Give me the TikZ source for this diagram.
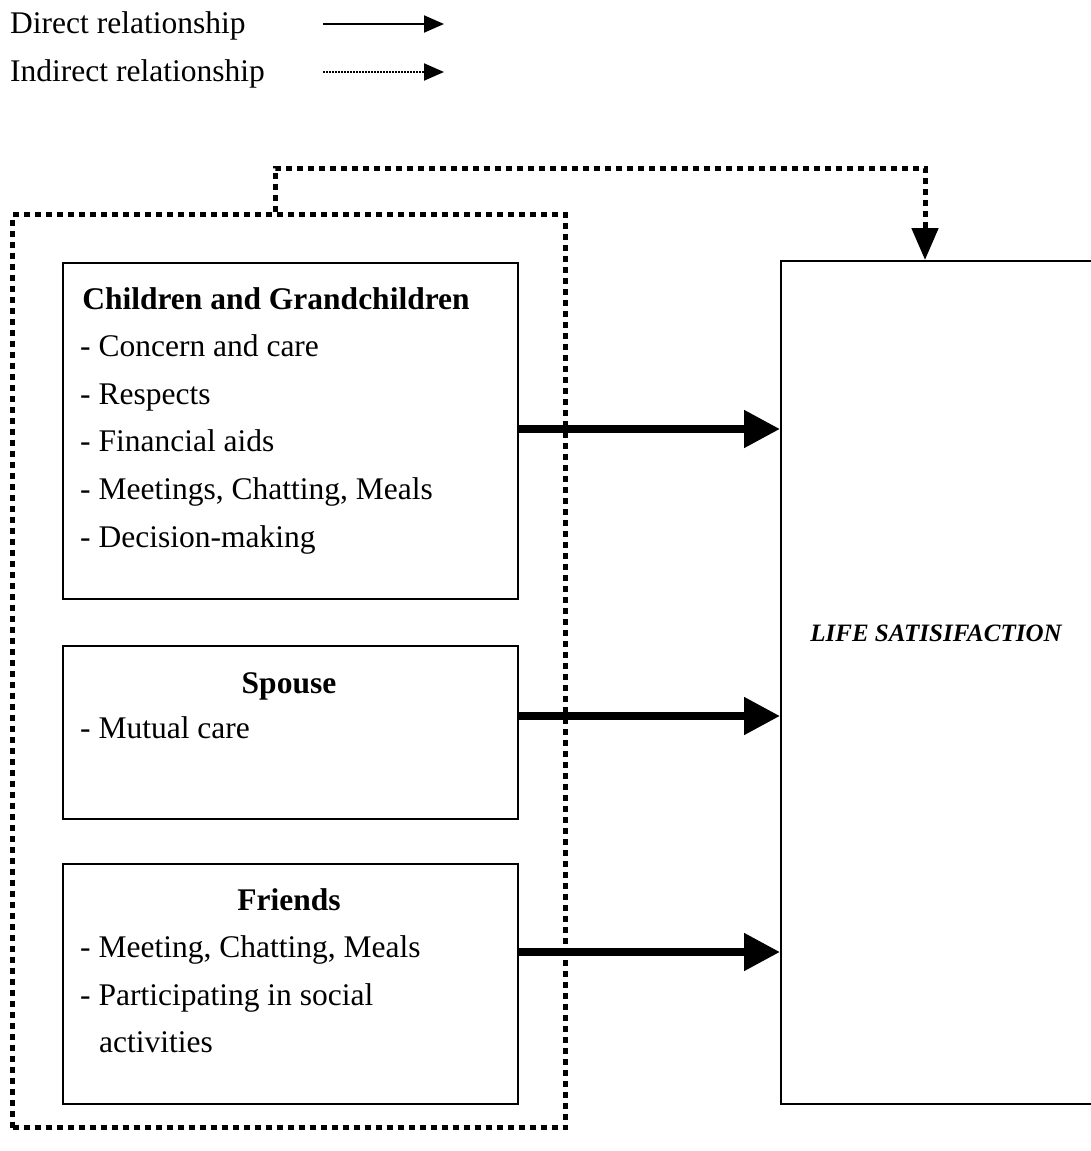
\documentclass[tikz,border=0pt]{standalone}
\usepackage{fontspec}
\setmainfont{Liberation Serif}
\usetikzlibrary{arrows.meta}
\begin{document}
\begin{tikzpicture}[x=1pt,y=-1pt,
  txt/.style={anchor=base west, inner sep=0pt, font=\fontsize{31.5}{36}\selectfont},
  hd/.style={anchor=base, inner sep=0pt, font=\fontsize{31.5}{36}\selectfont\bfseries},
  box/.style={draw, line width=2pt, anchor=north west, inner sep=0pt},
  dots/.style={line width=5pt, dash pattern=on 6pt off 5pt},
  bigarrow/.style={line width=8pt, -{Triangle[length=36pt,width=36pt]}},
  legarrow/.style={line width=2pt, -{Triangle[length=20pt,width=17pt]}},
  legdots/.style={line width=2pt, dash pattern=on 1.5pt off 1.5pt, -{Triangle[length=20pt,width=17pt]}},
]
\useasboundingbox (0,0) rectangle (1090,1151);

% legend
\node[txt] (ld) at (10,33) {Direct relationship};
\node[txt] (li) at (10,81) {Indirect relationship};
\coordinate (ld1) at (323,24);
\coordinate (ld2) at (444,24);
\coordinate (li1) at (323,72);
\coordinate (li2) at (444,72);
\draw[legarrow] (ld1) -- (ld2);
\draw[legdots] (li1) -- (li2);

% group
\node[draw, dots, anchor=north west, minimum width=553pt, minimum height=913pt, inner sep=0pt] (grp) at (10,212) {};

% boxes
\node[box, minimum width=455pt, minimum height=336pt] (cg) at (62,262) {};
\node[box, minimum width=455pt, minimum height=173pt] (sp) at (62,645) {};
\node[box, minimum width=455pt, minimum height=240pt] (fr) at (62,863) {};
\node[box, minimum width=340pt, minimum height=843pt] (life) at (780,260) {};

% texts
\node[hd] (cgh) at (276,309) {Children and Grandchildren};
\node[txt] (cg1) at (80,356) {- Concern and care};
\node[txt] (cg2) at (80,404) {- Respects};
\node[txt] (cg3) at (80,451) {- Financial aids};
\node[txt] (cg4) at (80,499) {- Meetings, Chatting, Meals};
\node[txt] (cg5) at (80,547) {- Decision-making};

\node[hd] (sph) at (289,693) {Spouse};
\node[txt] (sp1) at (80,738) {- Mutual care};

\node[hd] (frh) at (289,910) {Friends};
\node[txt] (fr1) at (80,957) {- Meeting, Chatting, Meals};
\node[txt] (fr2) at (80,1005) {- Participating in social};
\node[txt] (fr3) at (99,1052) {activities};

\node[anchor=base, inner sep=0pt, font=\fontsize{25}{30}\selectfont\bfseries\itshape] (lifet) at (936,641) {LIFE SATISIFACTION};

% arrows
\draw[bigarrow] ([xshift=-2pt]cg.east |- 0,429) -- (life.west |- 0,429);
\draw[bigarrow] ([xshift=-2pt]sp.east |- 0,716) -- (life.west |- 0,716);
\draw[bigarrow] ([xshift=-2pt]fr.east |- 0,952) -- (life.west |- 0,952);

% indirect
\draw[dots, -{Triangle[length=32pt,width=26pt]}] (grp.north west -| 275,0) |- (925,168) -- (life.north west -| 925,0);
\end{tikzpicture}
\end{document}
